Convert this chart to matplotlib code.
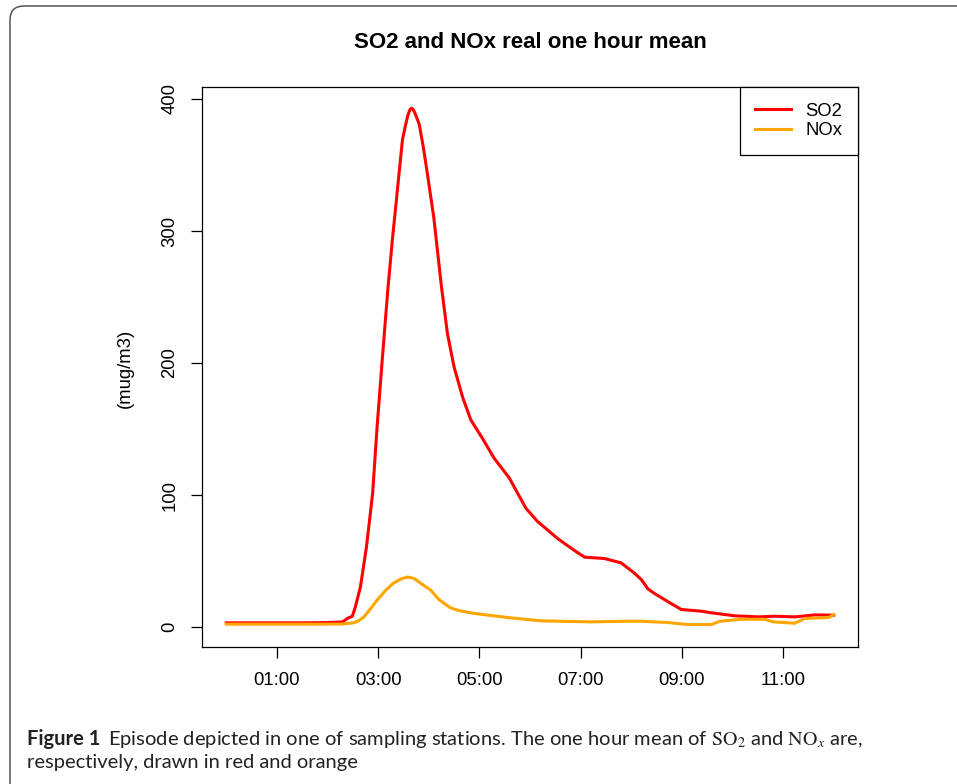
import matplotlib
matplotlib.use("Agg")
import matplotlib.pyplot as plt
from matplotlib.patches import FancyBboxPatch
from matplotlib.transforms import IdentityTransform

plt.rcParams['font.family'] = ['Liberation Sans', 'DejaVu Sans']
plt.rcParams['mathtext.fontset'] = 'stix'

# time of day in hours, one hour mean in mug/m3
so2_time = [0, 0.5, 1.0, 1.5, 2.0, 2.3, 2.39, 2.49, 2.55, 2.65, 2.77, 2.89, 2.98, 3.08,
            3.19, 3.28, 3.38, 3.48, 3.54, 3.59, 3.63, 3.66, 3.69, 3.73, 3.77, 3.81, 3.89,
            3.97, 4.10, 4.25, 4.37, 4.50, 4.67, 4.83, 5.06, 5.29, 5.59, 5.92, 6.15, 6.55,
            6.88, 7.08, 7.47, 7.80, 8.07, 8.20, 8.33, 8.46, 8.73, 8.99, 9.39, 9.58, 10.05,
            10.51, 10.84, 11.23, 11.63, 12.0]
so2_val = [3.3, 3.3, 3.3, 3.3, 3.5, 4, 6.6, 8.3, 15.4, 30.5, 61, 101, 152, 202,
           255, 293, 331, 369, 380, 388, 392, 393, 392, 389, 385, 381, 364,
           344, 310, 258, 222, 197, 174, 157, 143, 128, 113, 90, 80, 67,
           58, 53, 52, 48.7, 40.7, 36, 29, 25.5, 19.2, 13.4, 12.1, 10.9, 8.6,
           7.8, 8.3, 7.8, 9.3, 9.1]

nox_time = [0, 1, 2, 2.3, 2.52, 2.62, 2.72, 2.85, 2.98, 3.15, 3.31, 3.45, 3.58, 3.71,
            3.85, 4.04, 4.2, 4.34, 4.44, 4.6, 4.90, 5.2, 5.56, 6.22, 7.21, 7.87, 8.2,
            8.73, 9.12, 9.58, 9.75, 10.18, 10.64, 10.81, 11.23, 11.43, 11.9, 12.0]
nox_val = [2.3, 2.3, 2.3, 2.4, 3.3, 5, 7.8, 14, 20.5, 28, 33.6, 36.5, 38, 36.9,
           33, 28, 21, 17, 14.5, 12.5, 10.4, 9, 7.3, 4.8, 4, 4.5, 4.5,
           3.5, 2, 2, 4.5, 6, 6, 4, 3, 6.6, 7.3, 9.6]

tick_hours = [1, 3, 5, 7, 9, 11]
tick_labels = ["01:00", "03:00", "05:00", "07:00", "09:00", "11:00"]

fig = plt.figure(figsize=(9.57, 7.84), dpi=100)
ax = fig.add_axes([202/957, 1-647/784, 656/957, 560/784])

ax.plot(so2_time, so2_val, color="#FF0000", linewidth=2.2, label="SO2")
ax.plot(nox_time, nox_val, color="#FFA500", linewidth=2.2, label="NOx")

ax.set_xlim(-0.48, 12.48)
ax.set_ylim(-15, 409)
ax.set_xticks(tick_hours)
ax.set_xticklabels(tick_labels)
ax.set_yticks([0, 100, 200, 300, 400])
ax.tick_params(axis='both', direction='out', length=8, width=0.9, labelsize=13.3)
ax.tick_params(axis='x', pad=10)
ax.tick_params(axis='y', pad=9, labelrotation=90)
for lab in ax.get_yticklabels():
    lab.set_va('center')
for sp in ax.spines.values():
    sp.set_linewidth(0.9)

leg = ax.legend(loc="upper right", bbox_to_anchor=(1, 1), borderaxespad=0, fancybox=False,
                edgecolor="black", framealpha=1, fontsize=13.3, handlelength=1.9,
                handletextpad=0.8, borderpad=0.85, labelspacing=0.15)
leg.get_frame().set_linewidth(0.9)

fig.text(530/957, 1-42/784, "SO2 and NOx real one hour mean", ha="center", va="center",
         fontsize=16, fontweight="bold")
fig.text(125/957, 1-368/784, "(mug/m3)", ha="center", va="center", rotation=90, fontsize=13.3)

# caption box border
border = FancyBboxPatch((10, -60), 1100, 838, boxstyle="round,pad=0,rounding_size=14",
                        transform=IdentityTransform(), facecolor="none",
                        edgecolor="#555555", linewidth=1.1)
fig.add_artist(border)

cap_font = ['Lato', 'DejaVu Sans']
cap_size = 14.5
fig_lab = fig.text(27/957, 1-745/784, "Figure 1", family=cap_font, fontweight="bold",
                   fontsize=cap_size, color="#222222", va="baseline")
renderer = fig.canvas.get_renderer()
lab_end = fig_lab.get_window_extent(renderer).x1
fig.text((lab_end + 8)/957, 1-745/784,
         r"Episode depicted in one of sampling stations. The one hour mean of $\mathrm{SO}_2$ and $\mathrm{NO}_x$ are,",
         family=cap_font, fontsize=cap_size, color="#222222", va="baseline")
fig.text(27/957, 1-768/784, "respectively, drawn in red and orange", family=cap_font,
         fontsize=cap_size, color="#222222", va="baseline")

fig.savefig("out.png", dpi=100)
